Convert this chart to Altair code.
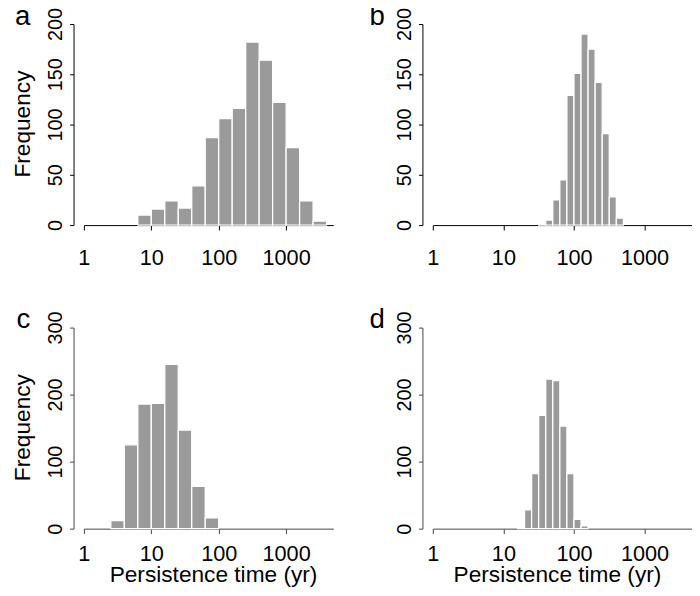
import altair as alt
import pandas as pd

FONT = "Liberation Sans"
BAR = "#9a9a9a"

# log10 bin edges (left, right) and counts
a_lo = [0.8, 1.0, 1.2, 1.4, 1.6, 1.8, 2.0, 2.2, 2.4, 2.6, 2.8, 3.0, 3.2, 3.4]
a_hi = [1.0, 1.2, 1.4, 1.6, 1.8, 2.0, 2.2, 2.4, 2.6, 2.8, 3.0, 3.2, 3.4, 3.6]
a_counts = [10, 16, 24, 17, 39, 87, 106, 116, 182, 164, 122, 77, 24, 4]

b_lo = [1.5, 1.6, 1.7, 1.8, 1.9, 2.0, 2.1, 2.2, 2.3, 2.4, 2.5, 2.6]
b_hi = [1.6, 1.7, 1.8, 1.9, 2.0, 2.1, 2.2, 2.3, 2.4, 2.5, 2.6, 2.7]
b_counts = [1, 5, 25, 45, 129, 151, 190, 175, 142, 91, 28, 7]

c_lo = [0.4, 0.6, 0.8, 1.0, 1.2, 1.4, 1.6, 1.8]
c_hi = [0.6, 0.8, 1.0, 1.2, 1.4, 1.6, 1.8, 2.0]
c_counts = [12, 125, 186, 187, 245, 147, 63, 16]

d_lo = [1.2, 1.3, 1.4, 1.5, 1.6, 1.7, 1.8, 1.9, 2.0, 2.1]
d_hi = [1.3, 1.4, 1.5, 1.6, 1.7, 1.8, 1.9, 2.0, 2.1, 2.2]
d_counts = [2, 28, 82, 169, 223, 221, 153, 82, 14, 4]

x_ticks = [1, 10, 100, 1000]
y_ticks_top = [0, 50, 100, 150, 200]
y_ticks_bottom = [0, 100, 200, 300]
x_title = "Persistence time (yr)"
y_title = "Frequency"


def panel(letter, lo, hi, counts, yticks, width, xmax, left, bottom, letter_x,
          yoffset, line_color, xtitle_x):
    df = pd.DataFrame({
        "lo": [10 ** v for v in lo],
        "hi": [10 ** v for v in hi],
        "count": counts,
    })
    xaxis_kw = dict(
        values=x_ticks, format="d", labelFontSize=22, labelFont=FONT,
        labelColor="black", labelFlush=False, labelOverlap=False,
        labelBaseline="alphabetic", labelPadding=27.5 if bottom else 34.5,
        tickSize=5, tickColor=line_color, domainColor=line_color,
        domainWidth=1, tickWidth=1, grid=False,
    )
    if bottom:
        xaxis_kw.update(title=x_title, titleFontSize=23, titleFont=FONT,
                        titleFontWeight="normal", titleColor="black",
                        titleBaseline="alphabetic", titleAlign="center",
                        titleX=xtitle_x, titleY=54, titleAnchor="start")
    else:
        xaxis_kw.update(title=None)
    yaxis_kw = dict(
        values=yticks, labelAngle=270, labelAlign="center",
        labelBaseline="bottom", labelFontSize=20, labelFont=FONT,
        labelColor="black", labelPadding=4.5, labelOverlap=False,
        labelFlush=False, tickSize=4, tickColor=line_color,
        domainColor=line_color, offset=yoffset, grid=False,
    )
    if left:
        yaxis_kw.update(title=y_title, titleFontSize=23, titleFont=FONT,
                        titleFontWeight="normal", titleColor="black",
                        titleAngle=270, titleBaseline="alphabetic",
                        titleAlign="center", titleX=-45, titleY=101)
    else:
        yaxis_kw.update(title=None)

    bars = alt.Chart(df).mark_rect(
        color=BAR, stroke="white", strokeWidth=1.3
    ).encode(
        x=alt.X("lo:Q", scale=alt.Scale(type="log", domain=[1, xmax], nice=False),
                axis=alt.Axis(**xaxis_kw)),
        x2="hi:Q",
        y=alt.Y("count:Q", scale=alt.Scale(domain=[yticks[0], yticks[-1]], nice=False),
                axis=alt.Axis(**yaxis_kw)),
        y2=alt.datum(0),
    )
    lab = alt.Chart(pd.DataFrame({"t": [letter]})).mark_text(
        fontSize=28, font=FONT, align="center", baseline="alphabetic", color="black"
    ).encode(text="t:N", x=alt.value(letter_x), y=alt.value(0.7))
    return alt.layer(bars, lab).properties(width=width, height=204)


pa = panel("a", a_lo, a_hi, a_counts, y_ticks_top, 253, 5000, True, False, -62, 10.5, "#000000", 0)
pb = panel("b", b_lo, b_hi, b_counts, y_ticks_top, 263, 4700, False, False, -56.5, 10.5, "#000000", 0)
pc = panel("c", c_lo, c_hi, c_counts, y_ticks_bottom, 253, 5000, True, True, -61.5, 10.5, "#444444", 131)
pd_ = panel("d", d_lo, d_hi, d_counts, y_ticks_bottom, 263, 4700, False, True, -56.5, 10.5, "#444444", 126)

chart = alt.concat(pa, pb, pc, pd_, columns=2,
                   spacing={"row": 104, "column": 101},
                   bounds="flush").properties(
    padding={"left": 3, "top": -10, "right": 0, "bottom": 0}
).configure_view(stroke=None)

chart.save("out.html", embed_options={"renderer": "svg", "actions": False})
